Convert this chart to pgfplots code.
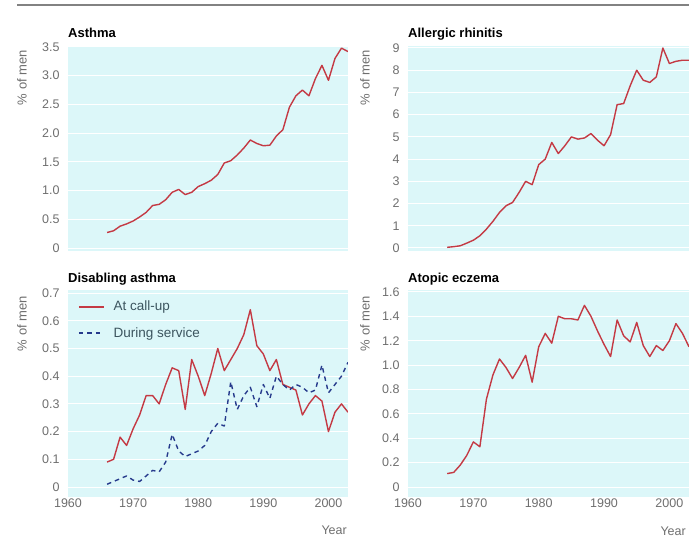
\documentclass[border=0pt]{standalone}
\usepackage{fontspec}
\setmainfont{Liberation Sans}
\usepackage{pgfplots}
\usepackage{pgfplotstable}
\pgfplotsset{compat=1.18}
\definecolor{bgc}{RGB}{220,247,249}
\definecolor{redl}{RGB}{196,58,68}
\definecolor{bluel}{RGB}{38,58,140}
\definecolor{tickc}{RGB}{110,110,110}
\definecolor{legc}{RGB}{60,85,95}
\definecolor{rulec}{RGB}{130,130,130}

\pgfplotstableread{
year asthma rhinitis callup service eczema
1966 0.27 0.03 0.09 0.010 0.11
1967 0.30 0.06 0.10 0.020 0.12
1968 0.38 0.10 0.18 0.030 0.18
1969 0.42 0.22 0.15 0.040 0.26
1970 0.47 0.35 0.21 0.025 0.37
1971 0.54 0.55 0.26 0.020 0.33
1972 0.62 0.85 0.33 0.040 0.72
1973 0.74 1.20 0.33 0.060 0.92
1974 0.76 1.60 0.30 0.055 1.05
1975 0.84 1.90 0.37 0.090 0.98
1976 0.97 2.05 0.43 0.190 0.89
1977 1.02 2.50 0.42 0.130 0.98
1978 0.93 3.00 0.28 0.110 1.08
1979 0.97 2.85 0.46 0.120 0.86
1980 1.07 3.75 0.40 0.130 1.15
1981 1.12 4.00 0.33 0.150 1.26
1982 1.18 4.75 0.41 0.200 1.18
1983 1.28 4.25 0.50 0.230 1.40
1984 1.48 4.60 0.42 0.220 1.38
1985 1.52 5.00 0.46 0.380 1.38
1986 1.62 4.90 0.50 0.280 1.37
1987 1.74 4.95 0.55 0.330 1.49
1988 1.88 5.15 0.64 0.360 1.40
1989 1.82 4.85 0.51 0.290 1.28
1990 1.78 4.60 0.48 0.370 1.17
1991 1.79 5.10 0.42 0.320 1.07
1992 1.95 6.45 0.46 0.400 1.37
1993 2.06 6.50 0.37 0.370 1.24
1994 2.45 7.30 0.36 0.350 1.19
1995 2.65 8.00 0.35 0.370 1.35
1996 2.75 7.55 0.26 0.360 1.16
1997 2.65 7.45 0.30 0.340 1.07
1998 2.95 7.70 0.33 0.350 1.16
1999 3.18 9.00 0.31 0.440 1.12
2000 2.92 8.30 0.20 0.340 1.20
2001 3.30 8.40 0.27 0.370 1.34
2002 3.48 8.45 0.30 0.400 1.26
2003 3.42 8.45 0.27 0.450 1.15
}\datatable

\pgfplotsset{
  panel/.style={
    scale only axis,
    axis background/.style={fill=bgc},
    axis line style={draw=none},
    major tick style={draw=none},
    minor tick style={draw=none},
    ymajorgrids,
    grid style={white, line width=1pt},
    xmin=1960, xmax=2003,
    xtick={1960,1970,1980,1990,2000},
    tick label style={font=\fontsize{12.5}{14}\selectfont, text=tickc},
    yticklabel style={xshift=-5pt},
    xticklabel style={yshift=2pt},
    /pgf/number format/assume math mode=true,
    every axis plot/.append style={line width=1.4pt, line join=round},
  },
}
\tikzset{
  tfont/.style={font=\fontsize{13}{15}\selectfont\bfseries, inner sep=0pt},
  lfont/.style={font=\fontsize{13}{15}\selectfont, text=tickc, inner sep=0pt, rotate=90, anchor=east},
}

\begin{document}
\begin{tikzpicture}
\useasboundingbox (0pt,0pt) rectangle (689pt,541pt);
\draw[rulec, line width=2.5pt] (17pt,536pt) -- (689pt,536pt);

% Asthma
\begin{axis}[panel, name=a1, at={(68pt,290pt)}, anchor=south west,
  width=280pt, height=205pt, ymin=-0.052, ymax=3.517,
  ytick={0,0.5,1,1.5,2,2.5,3,3.5},
  yticklabels={0,0.5,1.0,1.5,2.0,2.5,3.0,3.5}, xticklabels={}]
\addplot[redl] table[x=year, y=asthma] {\datatable};
\end{axis}

% Allergic rhinitis
\begin{axis}[panel, name=a2, at={(408pt,290pt)}, anchor=south west,
  width=281pt, height=205pt, ymin=-0.135, ymax=9.09,
  ytick={0,1,...,9}, yticklabels={0,1,2,3,4,5,6,7,8,9}, xticklabels={}]
\addplot[redl] table[x=year, y=rhinitis] {\datatable};
\end{axis}

% Disabling asthma
\begin{axis}[panel, name=a3, at={(68pt,44pt)}, anchor=south west,
  width=280pt, height=207pt, ymin=-0.036, ymax=0.711,
  ytick={0,0.1,0.2,0.3,0.4,0.5,0.6,0.7},
  yticklabels={0,0.1,0.2,0.3,0.4,0.5,0.6,0.7},
  xticklabels={1960,1970,1980,1990,2000},
  legend style={at={(rel axis cs:0,1)}, anchor=north west, xshift=7pt, yshift=-8pt,
    draw=none, fill=none, font=\fontsize{13.5}{15}\selectfont, text=legc,
    row sep=13pt, column sep=8pt, nodes={inner sep=1pt}},
  legend cell align=left,
  legend image code/.code={\draw[#1] (0pt,0pt) -- (25pt,0pt);}]
\addplot[redl] table[x=year, y=callup] {\datatable};
\addlegendentry{At call-up}
\addplot[bluel, dash pattern=on 4.5pt off 4pt] table[x=year, y=service] {\datatable};
\addlegendentry{During service}
\end{axis}

% Atopic eczema
\begin{axis}[panel, name=a4, at={(408pt,44pt)}, anchor=south west,
  width=281pt, height=207pt, ymin=-0.082, ymax=1.616,
  ytick={0,0.2,0.4,0.6,0.8,1.0,1.2,1.4,1.6},
  yticklabels={0,0.2,0.4,0.6,0.8,1.0,1.2,1.4,1.6},
  xticklabels={1960,1970,1980,1990,2000}]
\addplot[redl] table[x=year, y=eczema] {\datatable};
\end{axis}

% titles
\node[tfont, anchor=base west] at ([yshift=8pt]a1.north west) {Asthma};
\node[tfont, anchor=base west] at ([yshift=8pt]a2.north west) {Allergic rhinitis};
\node[tfont, anchor=base west] at ([yshift=7pt]a3.north west) {Disabling asthma};
\node[tfont, anchor=base west] at ([yshift=7pt]a4.north west) {Atopic eczema};

% y labels
\node[lfont] at ([xshift=-46pt, yshift=-4pt]a1.north west) {\% of men};
\node[lfont] at ([xshift=-43pt, yshift=-4pt]a2.north west) {\% of men};
\node[lfont] at ([xshift=-46pt, yshift=-6pt]a3.north west) {\% of men};
\node[lfont] at ([xshift=-43pt, yshift=-6pt]a4.north west) {\% of men};

% x labels
\node[font=\fontsize{12.5}{14}\selectfont, text=tickc, anchor=east, inner sep=0pt] at ([xshift=-1pt, yshift=-33pt]a3.south east) {Year};
\node[font=\fontsize{12.5}{14}\selectfont, text=tickc, anchor=east, inner sep=0pt] at ([xshift=-3pt, yshift=-34pt]a4.south east) {Year};
\end{tikzpicture}
\end{document}
